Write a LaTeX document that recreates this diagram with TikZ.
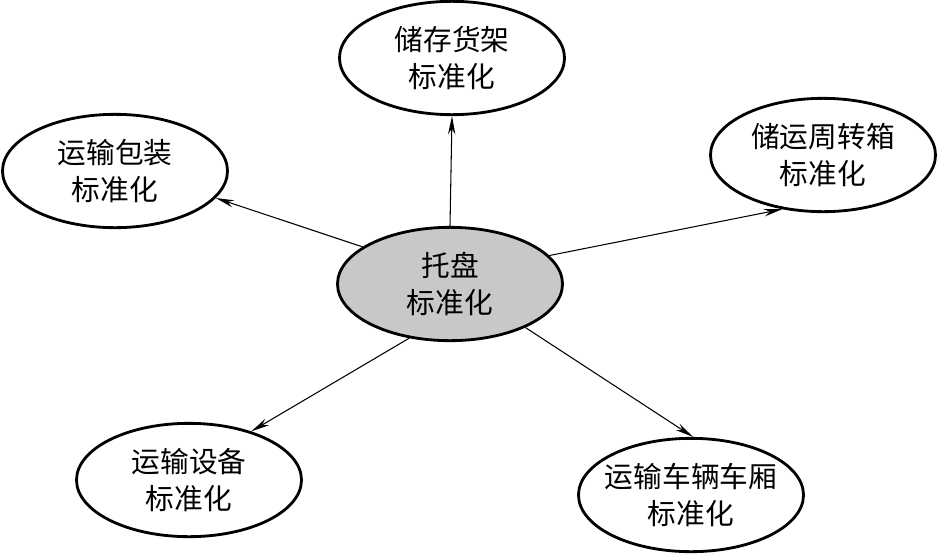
\documentclass[tikz,border=0pt]{standalone}
\usepackage{fontspec}
\newfontfamily\cjk{Noto Sans CJK SC}
\usepackage{xcolor}
\usepackage{tikz}
\usetikzlibrary{arrows.meta,shapes.geometric}
\definecolor{inkK}{HTML}{000000}
\definecolor{lGray}{HTML}{C8C8C8}

\begin{document}
\begin{tikzpicture}[x=0.03cm, y=-0.03cm,
    stdNode/.style={ellipse, draw=inkK, line width=2.4pt, fill=white,
        minimum width=6.75cm, minimum height=3.4cm, inner sep=0pt,
        align=center, font=\cjk\fontsize{24.5}{31.5}\selectfont, text=inkK},
    link/.style={draw=inkK, line width=0.9pt,
        -{Stealth[length=5.5mm, width=2.2mm]}}]
  \useasboundingbox (0,0) rectangle (937,555);

  % centre and the five outer ellipses
  \node[stdNode, fill=lGray] (pan) at (450,284) {托盘\\标准化};
  \node[stdNode] (huojia)    at (452,58)  {储存货架\\标准化};
  \node[stdNode] (baozhuang) at (115,171) {运输包装\\标准化};
  \node[stdNode] (zhouzhuan) at (823,155) {储运周转箱\\标准化};
  \node[stdNode] (shebei)    at (189,480) {运输设备\\标准化};
  \node[stdNode, inner xsep=-0.22cm] (chexiang) at (691,495) {运输车辆车厢\\标准化};

  % arrows out of the centre
  \draw[link] (pan.north) -- (huojia.south);
  \draw[link] (pan.157)   -- (baozhuang.-15);
  \draw[link] (pan.16)    -- (zhouzhuan.-127);
  \draw[link] (pan.-127)  -- (shebei.38);
  \draw[link] (pan.-30)   -- (chexiang.88);
\end{tikzpicture}
\end{document}
